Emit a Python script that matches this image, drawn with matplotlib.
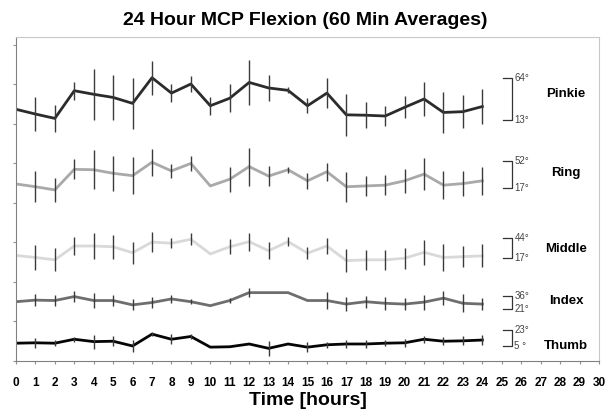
import numpy as np
import matplotlib.pyplot as plt

plt.rcParams['font.family'] = ['Liberation Sans', 'DejaVu Sans']

hours = list(range(25))

# values in plot units (one y tick = one unit)
pinkie = [6.37, 6.25, 6.14, 6.84, 6.75, 6.67, 6.52, 7.17, 6.78, 7.01, 6.46, 6.65, 7.05,
          6.91, 6.85, 6.46, 6.78, 6.23, 6.22, 6.20, 6.42, 6.63, 6.29, 6.31, 6.44]
pinkie_err = [0, 0.44, 0.34, 0.23, 0.65, 0.58, 0.65, 0.43, 0.22, 0.20, 0.23, 0.35, 0.58,
              0.32, 0.08, 0.19, 0.37, 0.53, 0.33, 0.26, 0.28, 0.44, 0.53, 0.42, 0.44]

ring = [4.48, 4.41, 4.33, 4.85, 4.84, 4.75, 4.69, 5.03, 4.81, 5.00, 4.43, 4.60, 4.92,
        4.68, 4.84, 4.56, 4.79, 4.41, 4.43, 4.45, 4.56, 4.73, 4.45, 4.49, 4.56]
ring_err = [0, 0.39, 0.31, 0.25, 0.49, 0.44, 0.47, 0.34, 0.17, 0.18, 0, 0.32, 0.48,
            0.25, 0.08, 0.20, 0.23, 0.38, 0.25, 0.26, 0.30, 0.40, 0.35, 0.32, 0.35]

middle = [2.67, 2.62, 2.56, 2.91, 2.91, 2.89, 2.74, 3.01, 2.98, 3.08, 2.71, 2.89, 3.02,
          2.79, 3.02, 2.73, 2.91, 2.54, 2.56, 2.56, 2.60, 2.75, 2.62, 2.64, 2.66]
middle_err = [0, 0.32, 0.29, 0.23, 0.34, 0.30, 0.28, 0.25, 0.12, 0.15, 0, 0.19, 0.23,
              0.21, 0.12, 0.15, 0.20, 0.29, 0.25, 0.26, 0.26, 0.32, 0.34, 0.27, 0.29]

index = [1.50, 1.54, 1.53, 1.63, 1.53, 1.53, 1.42, 1.48, 1.57, 1.50, 1.40, 1.53, 1.73,
         1.73, 1.73, 1.53, 1.53, 1.44, 1.50, 1.46, 1.44, 1.49, 1.59, 1.46, 1.44]
index_err = [0, 0.15, 0.15, 0.13, 0.19, 0.15, 0.14, 0.14, 0.09, 0.06, 0, 0.07, 0.11,
             0, 0, 0, 0.21, 0.18, 0.15, 0.16, 0.15, 0.19, 0.17, 0.23, 0.16]

thumb = [0.45, 0.46, 0.45, 0.55, 0.49, 0.50, 0.38, 0.68, 0.55, 0.62, 0.35, 0.36, 0.43,
         0.32, 0.43, 0.35, 0.41, 0.43, 0.43, 0.45, 0.46, 0.55, 0.50, 0.51, 0.53]
thumb_err = [0, 0.13, 0.08, 0.06, 0.18, 0.12, 0.15, 0.06, 0.13, 0.07, 0, 0, 0,
             0.19, 0, 0.12, 0.08, 0.11, 0.09, 0.08, 0.10, 0.09, 0.10, 0.11, 0.13]

fingers = ['Pinkie', 'Ring', 'Middle', 'Index', 'Thumb']
range_max = ['64°', '52°', '44°', '36°', '23°']
range_min = ['13°', '17°', '17°', '21°', '5 °']
# scale brackets on the right, in plot units
bracket_top = [7.16, 5.05, 3.12, 1.65, 0.78]
bracket_bot = [6.10, 4.37, 2.60, 1.32, 0.38]
name_y = [6.76, 4.76, 2.83, 1.52, 0.38]

series = [pinkie, ring, middle, index, thumb]
errors = [pinkie_err, ring_err, middle_err, index_err, thumb_err]
colors = ['#2b2b2b', '#a9a9a9', '#d9d9d9', '#6e6e6e', '#050505']

fig = plt.figure(figsize=(6.1, 4.11), dpi=100)
ax = fig.add_axes([0.0262, 0.1217, 0.9557, 0.7883])

for vals, err, col in zip(series, errors, colors):
    ax.plot(hours, vals, color=col, lw=2, zorder=2)
    ax.errorbar(hours, vals, yerr=err, fmt='none', ecolor='#3a3a3a',
                elinewidth=1, capsize=0, zorder=3)

# brackets + labels
for i in range(len(fingers)):
    ax.plot([25.05, 25.5, 25.5, 25.05], [bracket_top[i], bracket_top[i],
            bracket_bot[i], bracket_bot[i]], color='#333333', lw=0.9, clip_on=False)
    ax.text(25.65, bracket_top[i], range_max[i], fontsize=7, color='#444444',
            va='center', ha='left')
    ax.text(25.65, bracket_bot[i], range_min[i], fontsize=7, color='#444444',
            va='center', ha='left')
    ax.text(28.3, name_y[i], fingers[i], fontsize=9.5, fontweight='bold',
            va='center', ha='center')

ax.set_xlim(0, 30)
ax.set_ylim(0, 8.2)
ax.set_xticks(range(31))
ax.set_xticklabels([str(h) for h in range(31)], fontsize=8.5, fontweight='bold')
ax.set_yticks(range(9))
ax.set_yticklabels([])
ax.tick_params(axis='both', direction='out', length=2.5, color='#909090', width=0.8)
ax.tick_params(axis='x', pad=9)

for side in ['left', 'bottom']:
    ax.spines[side].set_color('#808080')
for side in ['top', 'right']:
    ax.spines[side].set_color('#c8c8c8')

fig.text(0.505, 0.026, 'Time [hours]', fontsize=14, fontweight='bold',
         ha='center', va='center')
fig.text(0.5, 0.951, '24 Hour MCP Flexion (60 Min Averages)', fontsize=14,
         fontweight='bold', ha='center', va='center')

plt.savefig('out.png', dpi=100)
